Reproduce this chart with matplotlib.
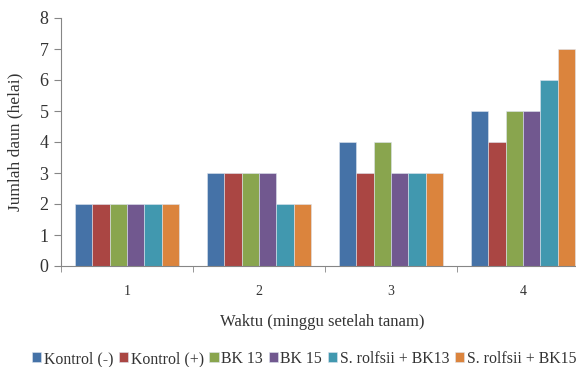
import numpy as np
import matplotlib.pyplot as plt

plt.rcParams['font.family'] = 'serif'
plt.rcParams['font.serif'] = ['Liberation Serif', 'DejaVu Serif']

minggu = ['1', '2', '3', '4']
seri = ['Kontrol (-)', 'Kontrol (+)', 'BK 13', 'BK 15',
        'S. rolfsii + BK13', 'S. rolfsii + BK15']
kontrol_min = [2, 3, 4, 5]
kontrol_plus = [2, 3, 3, 4]
bk13 = [2, 3, 4, 5]
bk15 = [2, 3, 3, 5]
sr_bk13 = [2, 2, 3, 6]
sr_bk15 = [2, 2, 3, 7]
warna = ['#4572A7', '#AA4643', '#89A54E', '#71588F', '#4198AF', '#DB843D']

nilai = [kontrol_min, kontrol_plus, bk13, bk15, sr_bk13, sr_bk15]

fig = plt.figure(figsize=(5.76, 3.67), dpi=100)
ax = fig.add_axes([61/576, 101/367, 528/576, 248/367])

x = np.arange(len(minggu))
w = 0.795 / 6
for i, (nama, v) in enumerate(zip(seri, nilai)):
    ax.bar(x - 0.795/2 + w*(i + 0.5), v, w, color=warna[i], label=nama,
           edgecolor='#dde4ee', linewidth=0.4)

ax.set_xlim(-0.5, 3.5)
ax.set_ylim(0, 8)
ax.set_yticks(range(0, 9))
ax.set_xticks(x)
ax.set_xticklabels(minggu, fontsize=10)
ax.set_xticks(np.arange(-0.5, 4, 1), minor=True)
ax.tick_params(axis='x', which='major', length=0, pad=14)
ax.tick_params(axis='x', which='minor', length=4, color='#868686', direction='out')
ax.tick_params(axis='y', length=5, color='#868686', labelsize=13, pad=4, labelcolor='#333333')
ax.tick_params(axis='x', labelcolor='#333333')
for s in ['top', 'right']:
    ax.spines[s].set_visible(False)
for s in ['left', 'bottom']:
    ax.spines[s].set_color('#868686')

fig.text(15/576, 1 - 142/367, 'Jumlah daun (helai)', rotation=90, ha='center', va='center',
         fontsize=12.5, color='#333333')
fig.text(322/576, 1 - 322/367, 'Waktu (minggu setelah tanam)', ha='center', va='center',
         fontsize=12, color='#333333')

fig.legend(loc='center', bbox_to_anchor=(304/576, 1 - 359/367), ncol=6, frameon=False,
           fontsize=11.4, handlelength=0.6, handleheight=0.6, handletextpad=0.15,
           columnspacing=0.35, labelcolor='#333333')

fig.savefig('out.png', dpi=100)
